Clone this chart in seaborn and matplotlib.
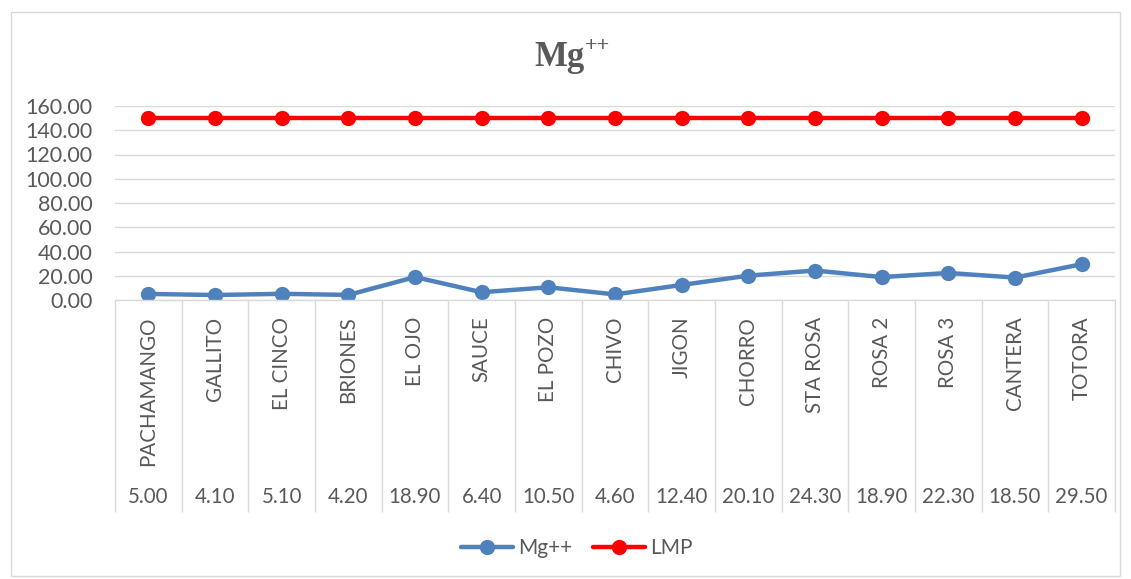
import numpy as np
import pandas as pd
import seaborn as sns
import matplotlib.pyplot as plt
from matplotlib.patches import Rectangle

sites = ['PACHAMANGO', 'GALLITO', 'EL CINCO', 'BRIONES', 'EL OJO', 'SAUCE', 'EL POZO', 'CHIVO',
         'JIGON', 'CHORRO', 'STA ROSA', 'ROSA 2', 'ROSA 3', 'CANTERA', 'TOTORA']
mg = [5.00, 4.10, 5.10, 4.20, 18.90, 6.40, 10.50, 4.60, 12.40, 20.10, 24.30, 18.90, 22.30, 18.50, 29.50]
lmp = [150] * len(sites)
y_ticks = [0, 20, 40, 60, 80, 100, 120, 140, 160]

sns.set_style("white")
plt.rcParams['font.family'] = ['Lato', 'DejaVu Sans']

pos = np.arange(len(sites))
df = pd.DataFrame({
    'pos': np.concatenate([pos, pos]),
    'value': mg + lmp,
    'serie': ['Mg++'] * len(sites) + ['LMP'] * len(sites),
})

fig = plt.figure(figsize=(11.31, 5.79), dpi=100)
W, H = 1131, 579
ax = fig.add_axes([115 / W, (H - 300) / H, 1000 / W, 194 / H])

sns.lineplot(data=df, x='pos', y='value', hue='serie', palette={'Mg++': '#4f81bd', 'LMP': '#ff0000'},
             marker='o', markersize=11, markeredgewidth=0, linewidth=3.2, sort=False, ax=ax)

grey = '#595959'
fs = 14.8
ax.set_xlim(-0.5, len(sites) - 0.5)
ax.set_ylim(0, 160)
ax.set_yticks(y_ticks)
ax.set_yticklabels([f'{v:.2f}' for v in y_ticks], color=grey, fontsize=15.5)
ax.yaxis.grid(True, color='#d9d9d9', linewidth=1)
ax.set_axisbelow(True)
ax.set_xticks(pos)
ax.set_xticklabels(sites, rotation=90, va='top', color=grey, fontsize=fs)
ax.tick_params(axis='x', length=0, pad=12)
ax.tick_params(axis='y', length=0, pad=16)
ax.set_xlabel('')
ax.set_ylabel('')
for s in ['top', 'right', 'left']:
    ax.spines[s].set_visible(False)
ax.spines['bottom'].set_color('#d9d9d9')
ax.spines['bottom'].set_linewidth(1)

# data table under the axis
tr = ax.get_xaxis_transform()
table_bottom = -(512 - 300) / 194
ax.vlines(np.arange(len(sites) + 1) - 0.5, table_bottom, 0, transform=tr, colors='#d9d9d9',
          linewidth=1, clip_on=False)
for i, v in enumerate(mg):
    ax.text(i, -(497 - 300) / 194, f'{v:.2f}', transform=tr, ha='center', va='center',
            color=grey, fontsize=fs)

# title with superscript
fig.text(585 / W, 1 - 57 / H, 'Mg', ha='right', va='center', fontsize=25, fontweight='bold',
         family='Liberation Serif', color=grey)
fig.text(585 / W, 1 - 46 / H, '++', ha='left', va='center', fontsize=16, fontweight='bold',
         family='Liberation Serif', color=grey)

handles, labels = ax.get_legend_handles_labels()
ax.get_legend().remove()
fig.legend(handles, labels, loc='center', bbox_to_anchor=(0.51, 1 - 548 / H), ncol=2, frameon=False,
           fontsize=15, labelcolor=grey, handlelength=2.5, columnspacing=1.0, handletextpad=0.25)

fig.patches.append(Rectangle((11 / W, 1 - 576 / H), 1109 / W, 564 / H, transform=fig.transFigure,
                             fill=False, edgecolor='#d9d9d9', linewidth=1))

fig.savefig('out.png', dpi=100)
